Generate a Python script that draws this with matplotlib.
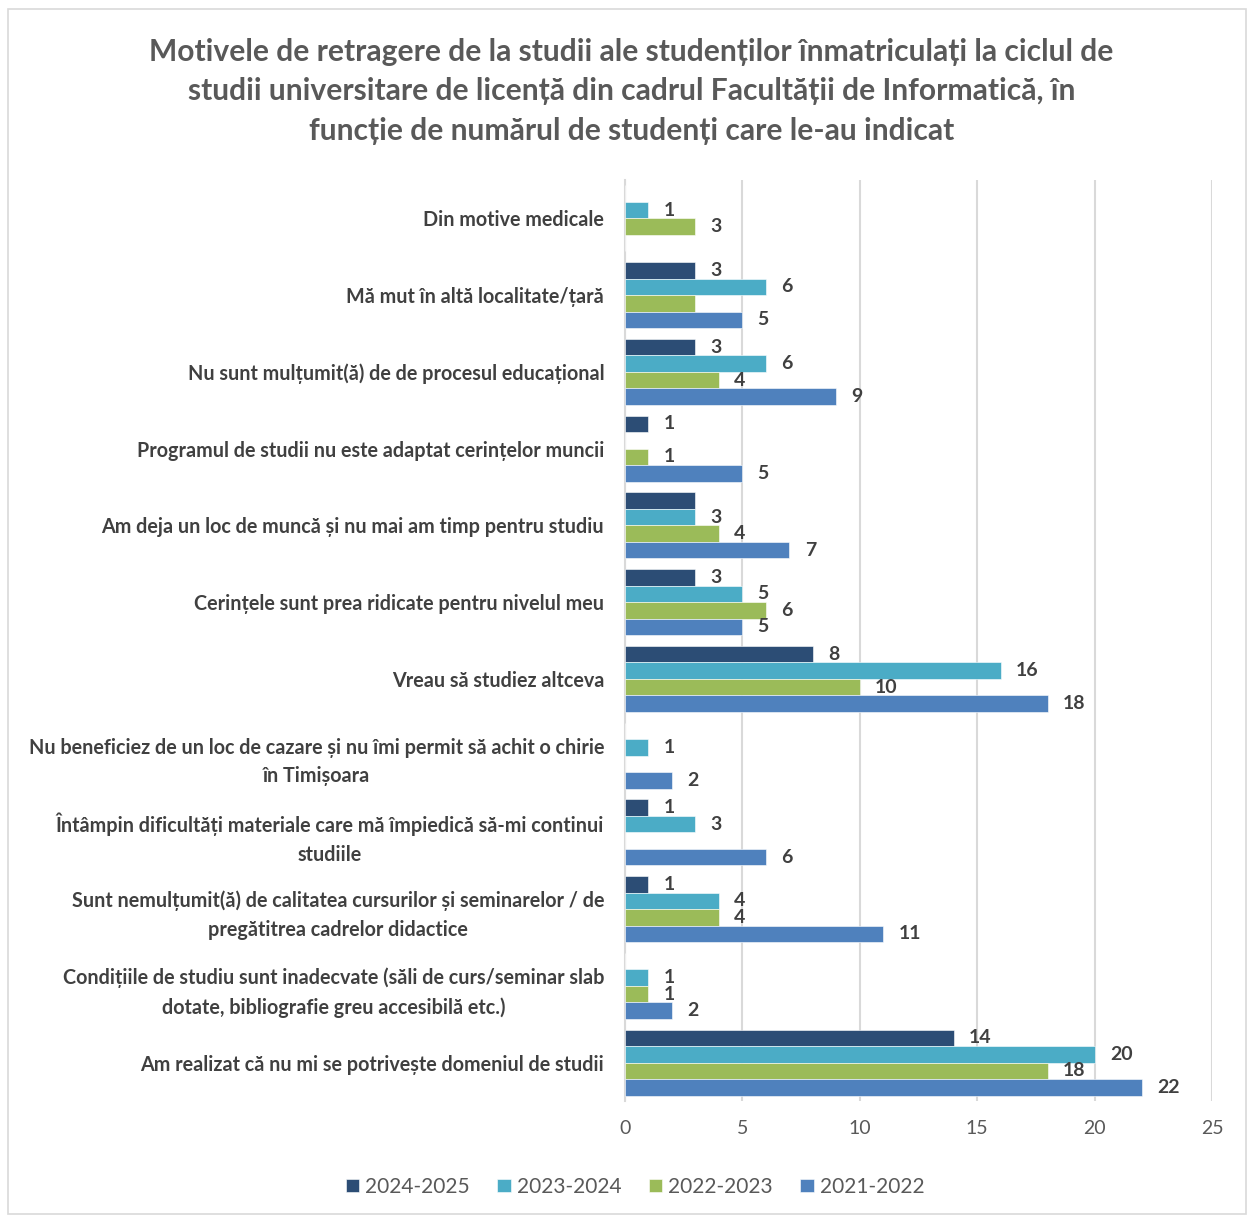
import matplotlib.pyplot as plt
from matplotlib.patches import Rectangle

plt.rcParams['font.family'] = ['Lato', 'DejaVu Sans']

categories = [
    'Din motive medicale',
    'Mă mut în altă localitate/țară',
    'Nu sunt mulțumit(ă) de de procesul educațional',
    'Programul de studii nu este adaptat cerințelor muncii',
    'Am deja un loc de muncă și nu mai am timp pentru studiu',
    'Cerințele sunt prea ridicate pentru nivelul meu',
    'Vreau să studiez altceva',
    'Nu beneficiez de un loc de cazare și nu îmi permit să achit o chirie\nîn Timișoara',
    'Întâmpin dificultăți materiale care mă împiedică să-mi continui\nstudiile',
    'Sunt nemulțumit(ă) de calitatea cursurilor și seminarelor / de\npregătitrea cadrelor didactice',
    'Condițiile de studiu sunt inadecvate (săli de curs/seminar slab\ndotate, bibliografie greu accesibilă etc.)',
    'Am realizat că nu mi se potrivește domeniul de studii',
]

series = ['2024-2025', '2023-2024', '2022-2023', '2021-2022']
colors = ['#2C4D75', '#4BACC6', '#9BBB59', '#4F81BD']

v2024 = [0, 3, 3, 1, 3, 3, 8, 0, 1, 1, 0, 14]
v2023 = [1, 6, 6, 0, 3, 5, 16, 1, 3, 4, 1, 20]
v2022 = [3, 3, 4, 1, 4, 6, 10, 0, 0, 4, 1, 18]
v2021 = [0, 5, 9, 5, 7, 5, 18, 2, 6, 11, 2, 22]
values = [v2024, v2023, v2022, v2021]

# labels that the original chart does not show (series index, category index)
hidden = [(2, 1), (0, 4)]

fig = plt.figure(figsize=(12.5, 12.16), dpi=100)
fig.patches.append(Rectangle((0.0064, 0.002), 0.99, 0.991, transform=fig.transFigure,
                             fill=False, edgecolor='#D9D9D9', linewidth=1.2))
ax = fig.add_axes([0.5, 0.0946, 0.4696, 0.7574])

h = 0.215
for s, (name, col, vals) in enumerate(zip(series, colors, values)):
    ys = [i + (s - 1.5) * h for i in range(len(categories))]
    ax.barh(ys, vals, height=h, color=col, edgecolor='white', linewidth=0.4,
            label=name, zorder=3)
    for i, v in enumerate(vals):
        if v == 0 or (s, i) in hidden:
            continue
        ax.annotate(str(v), (v, ys[i]), xytext=(11, 0), textcoords='offset points',
                    ha='left', va='center', fontsize=14, fontweight='bold',
                    color='#404040', zorder=4)

ax.set_xlim(0, 25)
ax.set_ylim(len(categories) - 0.5, -0.5)
ax.set_xticks(range(0, 26, 5))
ax.set_yticks(range(len(categories)))
ax.set_yticklabels(categories, fontsize=14.2, fontweight='bold', color='#404040',
                   multialignment='center', linespacing=1.55)
ax.tick_params(axis='y', length=0, pad=15)
ax.tick_params(axis='x', length=0, labelsize=14, labelcolor='#595959', pad=14)
ax.grid(axis='x', color='#D9D9D9', linewidth=1.5, zorder=0)
for sp in ['top', 'right', 'bottom']:
    ax.spines[sp].set_visible(False)
ax.spines['left'].set_color('#D9D9D9')
ax.spines['left'].set_linewidth(1.5)

fig.text(0.505, 0.969,
         'Motivele de retragere de la studii ale studenților înmatriculați la ciclul de\n'
         'studii universitare de licență din cadrul Facultății de Informatică, în\n'
         'funcție de numărul de studenți care le-au indicat',
         ha='center', va='top', fontsize=21.6, fontweight='bold', color='#595959',
         linespacing=1.5)

fig.legend(loc='center', bbox_to_anchor=(0.508, 0.024), ncol=4, frameon=False,
           fontsize=15, labelcolor='#595959', handlelength=0.65, handleheight=0.65,
           handletextpad=0.3, columnspacing=1.3)

fig.savefig('out.png', dpi=100)
